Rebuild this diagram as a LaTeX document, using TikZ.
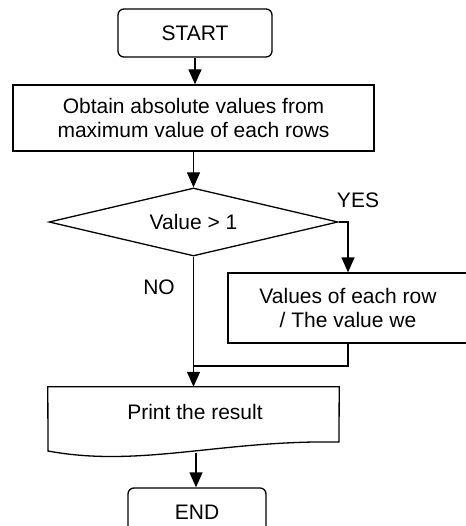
\documentclass[tikz,border=0pt]{standalone}
\usepackage{fontspec}
\setmainfont{Liberation Sans}
\usetikzlibrary{shapes.geometric,arrows.meta}
\begin{document}
\begin{tikzpicture}[x=1pt,y=-1pt,
  every node/.style={font=\fontsize{21}{24.5}\selectfont, inner sep=0pt},
  boxline/.style={draw=black, line width=1.3pt},
  termbox/.style={boxline, rounded corners=6pt, minimum height=48pt},
  procbox/.style={boxline, align=center},
  decbox/.style={boxline, diamond, aspect=4.25, minimum width=289pt, minimum height=68pt},
  conn/.style={line width=1.3pt},
  arr/.style={conn, -{Triangle[length=15pt,width=13pt]}}
]
\useasboundingbox (0,0) rectangle (465,526);

\node[termbox, minimum width=154pt] (start) at (195,33) {START};
\node[procbox, minimum width=361pt, minimum height=66pt] (obtain) at (193.5,118)
  {Obtain absolute values from\\maximum value of each rows};
\node[decbox] (dec) at (193.5,222) {Value \char`\> \ 1};
\node (yes) at (358,200) {YES};
\node (no) at (159,287) {NO};
\node[procbox, minimum width=240pt, minimum height=70pt] (divide) at (348,308)
  {Values of each row\\/ The value we};

% document shape for output
\node[minimum width=291pt, minimum height=64pt] (print) at (193.5,419) {};
\draw[boxline] (print.north west) -- (print.north east) -- (339,442)
  .. controls (220,440) and (140,468) .. (48,451) -- cycle;
\node (printlabel) at (195,412) {Print the result};
\coordinate (printbot) at (196,452.5);

\node[termbox, minimum width=138pt] (end) at (197,512) {END};

\coordinate (merge) at (193.5,366);

\draw[arr] (start.south) -- (start.south |- obtain.north);
\draw[arr] (obtain.south) -- (dec.north);
\draw[arr] (dec.east) -| (divide.north);
\draw[conn] (divide.south) |- (merge);
\draw[arr] (dec.south) -- (print.north);
\draw[arr] (printbot) -- (printbot |- end.north);
\end{tikzpicture}
\end{document}
